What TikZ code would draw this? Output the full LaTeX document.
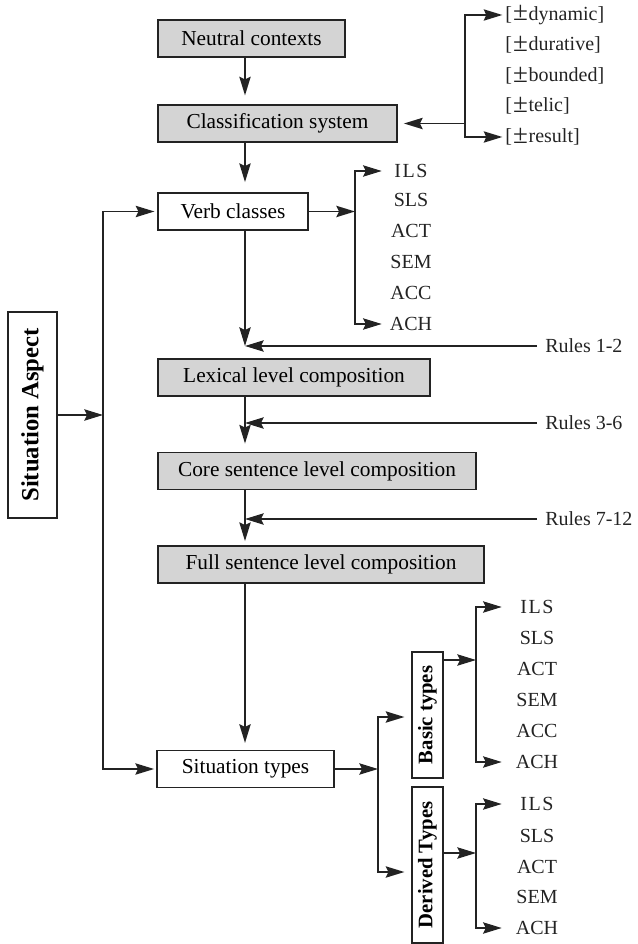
\documentclass[tikz,border=0pt]{standalone}
\usepackage{fontspec}
\setmainfont{Liberation Serif}
\usetikzlibrary{arrows.meta}
\definecolor{linec}{RGB}{35,35,35}
\definecolor{boxfill}{RGB}{212,212,212}
\newcommand{\fsmain}{\fontsize{16pt}{19pt}\selectfont}
\newcommand{\fsitem}{\fontsize{15pt}{18pt}\selectfont}
\newcommand{\fsaspect}{\fontsize{18.5pt}{22pt}\selectfont}
\newcommand{\fstype}{\fontsize{15.5pt}{18pt}\selectfont}
\newcommand{\pmbig}{\kern0.8pt\raisebox{-0.5pt}{\scalebox{1.35}{±}}\kern0.6pt}
\begin{document}
\begin{tikzpicture}[x=0.75pt,y=-0.75pt,
  conn/.style={draw=linec,line width=1.2pt},
  arr/.style={conn,-{Stealth[length=14pt,width=8.5pt,inset=2pt]}},
  boxw/.style={draw=linec,line width=1.4pt,fill=white,inner sep=0pt,font=\fsmain,minimum height=37*0.75pt},
  boxg/.style={boxw,fill=boxfill},
  item/.style={inner sep=0pt,font=\fsitem,text=linec},
]
\useasboundingbox (0,0) rectangle (637,944);
\coordinate (sp) at (245,0);
\coordinate (ls) at (103,0);
\coordinate (vb) at (355,0);
\coordinate (fbx) at (465,0);
\coordinate (sb1) at (378,717);
\coordinate (sb2) at (378,872);
\coordinate (bj) at (476,660);
\coordinate (dj) at (476,853);

% main boxes
\node[boxg,minimum width=187*0.75pt] (nc) at (251.5,38.5) {Neutral contexts};
\node[boxg,minimum width=239*0.75pt] (cs) at (277.5,123.5) {Classification system};
\node[boxw,minimum width=150*0.75pt] (vc) at (233,211.5) {Verb classes};
\node[boxg,minimum width=272*0.75pt] (lex) at (294,377.5) {Lexical level composition};
\node[boxg,minimum width=318*0.75pt] (core) at (317,471) {Core sentence level composition};
\node[boxg,minimum width=326*0.75pt] (full) at (321,564.5) {Full sentence level composition};
\node[boxw,minimum width=177*0.75pt] (st) at (245.5,769) {Situation types};
\node[boxw,minimum width=49*0.75pt,minimum height=206*0.75pt,font=\fsaspect] (sa) at (32.5,415) {\rotatebox{90}{\textbf{Situation Aspect}}};
\node[boxw,minimum width=31*0.75pt,minimum height=126*0.75pt,font=\fstype] (bt) at (427.5,715) {\rotatebox{90}{\textbf{Basic types}}};
\node[boxw,minimum width=31*0.75pt,minimum height=156*0.75pt,font=\fstype] (dt) at (427.5,865) {\rotatebox{90}{\textbf{Derived Types}}};

% features
\node[item,anchor=west] (f1) at (505,15) {[\pmbig dynamic]};
\node[item,anchor=west] (f2) at (505,45) {[\pmbig durative]};
\node[item,anchor=west] (f3) at (505,76) {[\pmbig bounded]};
\node[item,anchor=west] (f4) at (505,106) {[\pmbig telic]};
\node[item,anchor=west] (f5) at (505,137) {[\pmbig result]};

% verb classes list
\node[item,minimum width=58*0.75pt] (v1) at (411,171) {I\kern1.2pt L\kern1.2pt S};
\node[item,minimum width=58*0.75pt] (v2) at (411,200) {SLS};
\node[item,minimum width=58*0.75pt] (v3) at (411,231) {ACT};
\node[item,minimum width=58*0.75pt] (v4) at (411,262) {SEM};
\node[item,minimum width=58*0.75pt] (v5) at (411,293) {ACC};
\node[item,minimum width=58*0.75pt] (v6) at (411,324) {ACH};

% rules
\node[item,anchor=west] (r1) at (545,346) {Rules 1-2};
\node[item,anchor=west] (r2) at (545,423) {Rules 3-6};
\node[item,anchor=west] (r3) at (545,519) {Rules 7-12};

% basic types list
\node[item,minimum width=70*0.75pt] (b1) at (537,607) {I\kern1.2pt L\kern1.2pt S};
\node[item,minimum width=70*0.75pt] (b2) at (537,638) {SLS};
\node[item,minimum width=70*0.75pt] (b3) at (537,669) {ACT};
\node[item,minimum width=70*0.75pt] (b4) at (537,700) {SEM};
\node[item,minimum width=70*0.75pt] (b5) at (537,731) {ACC};
\node[item,minimum width=70*0.75pt] (b6) at (537,762) {ACH};

% derived types list
\node[item,minimum width=70*0.75pt] (d1) at (537,804) {I\kern1.2pt L\kern1.2pt S};
\node[item,minimum width=70*0.75pt] (d2) at (537,836) {SLS};
\node[item,minimum width=70*0.75pt] (d3) at (537,867) {ACT};
\node[item,minimum width=70*0.75pt] (d4) at (537,897) {SEM};
\node[item,minimum width=70*0.75pt] (d5) at (537,928) {ACH};

% spine
\draw[arr,shorten >=6.5pt] (nc.south -| sp) -- (cs.north -| sp);
\draw[arr,shorten >=7.5pt] (cs.south -| sp) -- (vc.north -| sp);
\draw[arr] (vc.south -| sp) -- (r1.west -| sp);
\draw[arr,shorten <=6pt] (r1.west) -- (r1.west -| sp);
\draw[arr,shorten >=6pt] (lex.south -| sp) -- (core.north -| sp);
\draw[arr,shorten <=6pt] (r2.west) -- (r2.west -| sp);
\draw[arr,shorten >=3pt] (core.south -| sp) -- (full.north -| sp);
\draw[arr,shorten <=6pt] (r3.west) -- (r3.west -| sp);
\draw[arr,shorten >=5pt] (full.south -| sp) -- (st.north -| sp);

% features bracket
\draw[arr,shorten >=4.5pt] (cs.east -| fbx) -- (cs.east);
\draw[arr,shorten >=2pt] (f5.west -| fbx) |- (f1.west);
\draw[arr,shorten >=2pt] (f1.west -| fbx) |- (f5.west);

% verb classes bracket
\draw[arr] (vc.east) -- (vc.east -| vb);
\draw[arr] (v6.west -| vb) |- (v1.west);
\draw[arr] (v1.west -| vb) |- (v6.west);

% situation aspect
\draw[arr] (sa.east) -- (sa.east -| ls);
\draw[arr,shorten >=2pt] (sa.east -| ls) |- (vc.west);
\draw[arr,shorten >=1.5pt] (sa.east -| ls) |- (st.west);

% situation types
\draw[arr] (st.east) -- (st.east -| sb1);
\draw[arr,shorten >=5pt] (sb2) |- (sb1 -| bt.west);
\draw[arr,shorten >=5pt] (sb1) |- (sb2 -| dt.west);

% basic types bracket
\draw[arr] (bj -| bt.east) -- (bj);
\draw[arr] (b6.west -| bj) |- (b1.west);
\draw[arr] (b1.west -| bj) |- (b6.west);

% derived types bracket
\draw[arr] (dj -| dt.east) -- (dj);
\draw[arr] (d5.west -| dj) |- (d1.west);
\draw[arr] (d1.west -| dj) |- (d5.west);
\end{tikzpicture}
\end{document}
